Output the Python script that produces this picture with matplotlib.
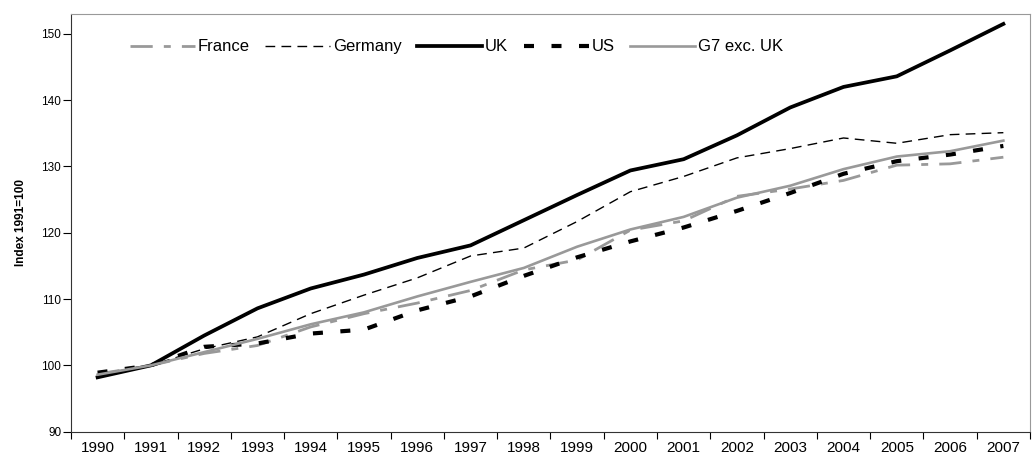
import matplotlib
matplotlib.use("Agg")
import matplotlib.pyplot as plt
import numpy as np

plt.rcParams['font.family'] = ['Liberation Sans', 'DejaVu Sans']

years = list(range(1990, 2008))
france = [98.7, 100, 101.8, 103.0, 105.8, 107.8, 109.4, 111.3, 114.4, 115.9,
          120.4, 121.8, 125.5, 126.6, 127.9, 130.2, 130.4, 131.4]
germany = [98.6, 100, 102.5, 104.3, 107.8, 110.6, 113.2, 116.5, 117.7, 121.7,
           126.2, 128.5, 131.3, 132.7, 134.3, 133.5, 134.8, 135.1]
uk = [98.2, 100, 104.5, 108.6, 111.6, 113.7, 116.2, 118.1, 121.9, 125.7,
      129.4, 131.1, 134.7, 138.9, 142.0, 143.6, 147.5, 151.5]
us = [98.9, 100, 102.8, 103.3, 104.8, 105.4, 108.3, 110.4, 113.5, 116.3,
      118.7, 120.8, 123.3, 126.0, 128.9, 130.8, 131.8, 133.1]
g7 = [98.6, 100, 102.0, 104.0, 106.2, 108.0, 110.4, 112.6, 114.7, 117.9,
      120.5, 122.4, 125.3, 127.1, 129.6, 131.5, 132.3, 133.9]

fig = plt.figure(figsize=(10.36, 4.59), dpi=100)
ax = fig.add_axes([0.0685, 0.0595, 0.9257, 0.91])

x = np.arange(len(years))
grey = '#999999'
ax.plot(x, france, color=grey, lw=2.0, dashes=(8, 4, 2.5, 4), label='France')
ax.plot(x, germany, color='black', lw=1.0, dashes=(7, 4.5), label='Germany')
ax.plot(x, uk, color='black', lw=2.7, label='UK')
ax.plot(x, us, color='black', lw=3.0, dashes=(2.4, 4.2), label='US')
ax.plot(x, g7, color=grey, lw=1.9, label='G7 exc. UK')

ax.set_xlim(-0.5, len(years) - 0.5)
ax.set_ylim(90, 153)
ax.set_yticks(range(90, 151, 10))
ax.set_xticks(x)
ax.set_xticklabels([str(y) for y in years], fontsize=11)
ax.set_xticks(np.arange(-0.5, len(years), 1), minor=True)
ax.tick_params(axis='x', which='major', length=0, pad=7)
ax.tick_params(axis='x', which='minor', length=5, direction='out', width=0.8)
ax.tick_params(axis='y', length=6, direction='out', width=0.8, labelsize=8.5, pad=1)

for side in ['top', 'right']:
    ax.spines[side].set_color(grey)
ax.spines['left'].set_color('#333333')
ax.spines['bottom'].set_color('#333333')

ax.set_ylabel('Index 1991=100', fontsize=8.5, fontweight='bold', labelpad=10)

ax.legend(loc='upper left', bbox_to_anchor=(0.0545, 0.955), ncol=5, frameon=False,
          fontsize=12, handlelength=3.9, handletextpad=0.15, columnspacing=0.95,
          borderaxespad=0)

fig.savefig('out.png', dpi=100)
